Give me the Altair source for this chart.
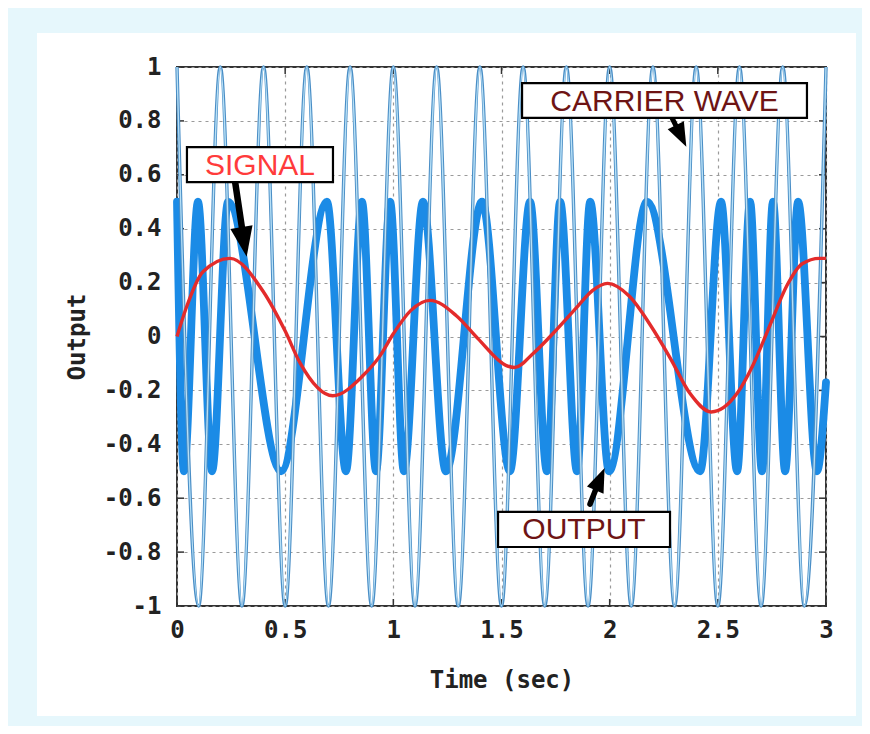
import altair as alt
import pandas as pd

# ---------------- data ----------------
# carrier wave: extrema (time in s, value)
carrier_t = [0.0, 0.1, 0.2, 0.3, 0.4, 0.5, 0.6, 0.7, 0.8, 0.9, 1.0,
             1.1, 1.2, 1.3, 1.4, 1.5, 1.6, 1.7, 1.8, 1.9, 2.0,
             2.1, 2.2, 2.3, 2.4, 2.5, 2.6, 2.7, 2.8, 2.9, 3.0]
carrier_v = [1, -1, 1, -1, 1, -1, 1, -1, 1, -1, 1,
             -1, 1, -1, 1, -1, 1, -1, 1, -1, 1,
             -1, 1, -1, 1, -1, 1, -1, 1, -1, 1]

# output (modulated) wave: extrema
output_t = [0.0, 0.032, 0.097, 0.162, 0.236, 0.481, 0.693, 0.781, 0.855, 0.920,
            0.985, 1.049, 1.137, 1.243, 1.410, 1.539, 1.632, 1.710, 1.771, 1.849,
            1.910, 1.997, 2.173, 2.418, 2.515, 2.589, 2.649, 2.704, 2.755, 2.811,
            2.871, 2.958, 3.0]
output_v = [0.5, -0.5, 0.5, -0.5, 0.5, -0.5, 0.5, -0.5, 0.5, -0.5,
            0.5, -0.5, 0.5, -0.5, 0.5, -0.5, 0.5, -0.5, 0.5, -0.5,
            0.5, -0.5, 0.5, -0.5, 0.5, -0.5, 0.5, -0.5, 0.5, -0.5,
            0.5, -0.5, -0.17]

# signal
signal_t = [0.0, 0.04, 0.12, 0.245, 0.40, 0.50, 0.57, 0.72, 0.86, 0.94,
            1.0, 1.08, 1.17, 1.29, 1.39, 1.52, 1.56, 1.65, 1.76, 1.85,
            1.92, 1.99, 2.09, 2.19, 2.28, 2.37, 2.47, 2.59, 2.66, 2.74,
            2.82, 2.89, 2.97, 3.0]
signal_v = [0.0, 0.10, 0.24, 0.29, 0.165, 0.02, -0.10, -0.22, -0.145, -0.07,
            0.01, 0.096, 0.134, 0.078, -0.007, -0.107, -0.115, -0.06, 0.03, 0.11,
            0.17, 0.197, 0.15, 0.04, -0.08, -0.21, -0.28, -0.21, -0.11, 0.04,
            0.19, 0.27, 0.29, 0.29]

x_ticks = [0, 0.5, 1, 1.5, 2, 2.5, 3]
y_ticks = [-1, -0.8, -0.6, -0.4, -0.2, 0, 0.2, 0.4, 0.6, 0.8, 1]

# annotations
label_text = ["SIGNAL", "CARRIER WAVE", "OUTPUT"]
label_color = ["#ff3b3b", "#6e1414", "#6e1414"]
box_t1 = [0.046, 1.595, 1.484]
box_t2 = [0.721, 2.912, 2.279]
box_v1 = [0.703, 0.940, -0.651]
box_v2 = [0.573, 0.811, -0.781]
arrow_t1 = [0.268, 2.288, 1.909]
arrow_v1 = [0.577, 0.811, -0.622]
arrow_t2 = [0.310, 2.330, 1.955]
arrow_v2 = [0.351, 0.744, -0.529]
arrow_angle = [170, 154, 23]
arrow_size = [900, 576, 576]
arrow_width = [6.5, 5, 5.5]

# ---------------- chart ----------------
W, H = 649, 539
PAD = {"left": 169, "top": 59, "right": 36, "bottom": 120}
TICK = 7

carrier = pd.DataFrame({"t": carrier_t, "v": carrier_v})
output = pd.DataFrame({"t": output_t, "v": output_v})
signal = pd.DataFrame({"t": signal_t, "v": signal_v})
xt = pd.DataFrame({"t": x_ticks})
yt = pd.DataFrame({"v": y_ticks})
ann = pd.DataFrame({
    "text": label_text, "color": label_color,
    "t1": box_t1, "t2": box_t2, "v1": box_v1, "v2": box_v2,
    "tc": [(a + b) / 2 for a, b in zip(box_t1, box_t2)],
    "vc": [(a + b) / 2 for a, b in zip(box_v1, box_v2)],
    "at1": arrow_t1, "av1": arrow_v1, "at2": arrow_t2, "av2": arrow_v2,
    "ang": arrow_angle, "size": arrow_size, "sw": arrow_width,
})

xs = alt.Scale(domain=[0, 3], nice=False, zero=False)
ys = alt.Scale(domain=[-1, 1], nice=False, zero=False)

FONT = "DejaVu Sans Mono"
x_axis = alt.Axis(values=x_ticks, title="Time (sec)", grid=True, ticks=False,
                  domain=False, labelPadding=12, titlePadding=26, labelFlush=False,
                  labelExpr="'' + datum.value")
y_axis = alt.Axis(values=y_ticks, title="Output", grid=True, ticks=False,
                  domain=False, labelPadding=16, titlePadding=14, labelFlush=False,
                  labelExpr="'' + datum.value")


def X(f):
    return alt.X(f, type="quantitative", scale=xs, axis=x_axis)


def Y(f):
    return alt.Y(f, type="quantitative", scale=ys, axis=y_axis)


one = pd.DataFrame({"a": [0]})
CYAN = "#e6f7fc"
frame_left = alt.Chart(one).mark_rect(fill=CYAN).encode(
    x=alt.value(-PAD["left"]), x2=alt.value(-140), y=alt.value(-PAD["top"]), y2=alt.value(H + PAD["bottom"]))
frame_top = alt.Chart(one).mark_rect(fill=CYAN).encode(
    x=alt.value(-PAD["left"]), x2=alt.value(W + PAD["right"]), y=alt.value(-PAD["top"]), y2=alt.value(-34))
frame_right = alt.Chart(one).mark_rect(fill=CYAN).encode(
    x=alt.value(W + 30), x2=alt.value(W + PAD["right"]), y=alt.value(-PAD["top"]), y2=alt.value(H + PAD["bottom"]))
frame_bottom = alt.Chart(one).mark_rect(fill=CYAN).encode(
    x=alt.value(-PAD["left"]), x2=alt.value(W + PAD["right"]), y=alt.value(H + 110), y2=alt.value(H + PAD["bottom"]))

# inward ticks on all four sides
TC = "#333333"
tick_left = alt.Chart(yt).mark_rule(color=TC, strokeWidth=1.5).encode(
    y=Y("v"), x=alt.value(0), x2=alt.value(TICK))
tick_right = alt.Chart(yt).mark_rule(color=TC, strokeWidth=1.5).encode(
    y=Y("v"), x=alt.value(W - TICK), x2=alt.value(W))
tick_bottom = alt.Chart(xt).mark_rule(color=TC, strokeWidth=1.5).encode(
    x=X("t"), y=alt.value(H - TICK), y2=alt.value(H))
tick_top = alt.Chart(xt).mark_rule(color=TC, strokeWidth=1.5).encode(
    x=X("t"), y=alt.value(0), y2=alt.value(TICK))

out_line = alt.Chart(output).mark_line(
    color="#1b8be6", strokeWidth=7.8, interpolate="monotone", strokeCap="round", strokeJoin="round"
).encode(x=X("t"), y=Y("v"))

car_outer = alt.Chart(carrier).mark_line(
    color="#4a8ec6", strokeWidth=3.4, interpolate="monotone"
).encode(x=X("t"), y=Y("v"))
car_inner = alt.Chart(carrier).mark_line(
    color="#b8e0f6", strokeWidth=1.3, interpolate="monotone"
).encode(x=X("t"), y=Y("v"))

sig_line = alt.Chart(signal).mark_line(
    color="#e32b2b", strokeWidth=3.4, interpolate="monotone"
).encode(x=X("t"), y=Y("v"))

boxes = alt.Chart(ann).mark_rect(fill="white", stroke="black", strokeWidth=2.2).encode(
    x=X("t1"), x2="t2", y=Y("v1"), y2="v2")
texts = alt.Chart(ann).mark_text(
    font="Liberation Sans", fontSize=30, baseline="middle", align="center", dy=1
).encode(x=X("tc"), y=Y("vc"), text="text:N", color=alt.Color("color:N", scale=None))
shafts = alt.Chart(ann).mark_rule(color="black", strokeCap="round").encode(
    x=X("at1"), y=Y("av1"), x2="at2", y2="av2",
    strokeWidth=alt.StrokeWidth("sw:Q", scale=None))
heads = alt.Chart(ann).mark_point(
    shape="M0,-1L-0.75,1L0.75,1Z", filled=True, color="black", opacity=1
).encode(x=X("at2"), y=Y("av2"),
         angle=alt.Angle("ang:Q", scale=None),
         size=alt.Size("size:Q", scale=None))

chart = alt.layer(
    frame_left, frame_top, frame_right, frame_bottom,
    tick_left, tick_right, tick_bottom, tick_top,
    out_line, car_outer, car_inner, sig_line,
    shafts, heads, boxes, texts,
).properties(
    width=W, height=H, padding=PAD,
    autosize=alt.AutoSizeParams(type="none"),
    background="white",
).configure_view(
    stroke="#333333", strokeWidth=2, fill="white"
).configure_axis(
    labelFont=FONT, labelFontWeight="bold", labelFontSize=24, labelColor="#222222",
    titleFont=FONT, titleFontWeight="bold", titleFontSize=24, titleColor="#222222",
    gridColor="#9a9a9a", gridDash=[3, 4], gridWidth=1.2, gridOpacity=1,
)

chart.save("out.html", embed_options={"renderer": "svg", "actions": False})
